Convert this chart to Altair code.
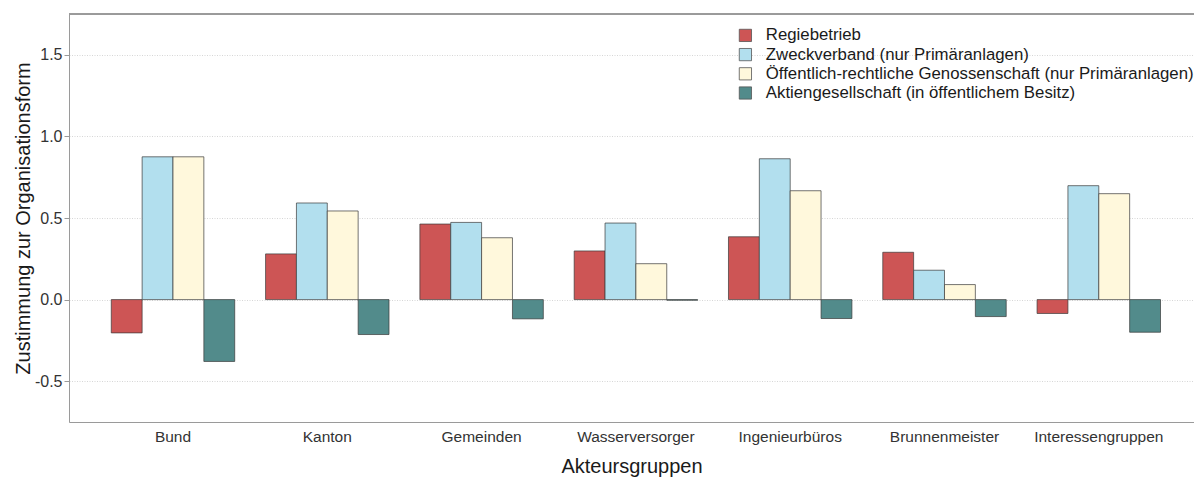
import altair as alt
import pandas as pd

groups = ["Bund", "Kanton", "Gemeinden", "Wasserversorger", "Ingenieurbüros",
          "Brunnenmeister", "Interessengruppen"]
forms = ["Regiebetrieb",
         "Zweckverband (nur Primäranlagen)",
         "Öffentlich-rechtliche Genossenschaft (nur Primäranlagen)",
         "Aktiengesellschaft (in öffentlichem Besitz)"]
regie = [-0.204, 0.28, 0.463, 0.298, 0.385, 0.29, -0.085]
zweck = [0.875, 0.592, 0.473, 0.469, 0.863, 0.18, 0.698]
genoss = [0.875, 0.543, 0.379, 0.22, 0.667, 0.092, 0.649]
aktien = [-0.379, -0.214, -0.118, -0.004, -0.116, -0.104, -0.20]
colors = ["#CD5555", "#B2DFEE", "#FFF8DC", "#528B8B"]
y_ticks = [-0.5, 0.0, 0.5, 1.0, 1.5]

rows = []
for f, vals in zip(forms, [regie, zweck, genoss, aktien]):
    for g, v in zip(groups, vals):
        rows.append({"Akteursgruppe": g, "Form": f, "Wert": v})
df = pd.DataFrame(rows)

W, H = 1125, 408

bars = alt.Chart(df).mark_bar(
    stroke="#3a3a3a", strokeWidth=1, strokeOpacity=0.7
).encode(
    x=alt.X("Akteursgruppe:N", sort=groups,
            scale=alt.Scale(paddingInner=0.2, paddingOuter=0.2455, align=0.558),
            axis=alt.Axis(title="Akteursgruppen", labelAngle=0, tickSize=0,
                          labelPadding=7, labelFontSize=15.5, labelColor="#333333",
                          titleFontSize=20, titleFontWeight="normal", titleColor="#1a1a1a",
                          titleY=50, titleBaseline="alphabetic",
                          domainColor="#9a9a9a", domainWidth=1, grid=False)),
    xOffset=alt.XOffset("Form:N", sort=forms,
                        scale=alt.Scale(paddingInner=0, paddingOuter=0)),
    y=alt.Y("Wert:Q",
            scale=alt.Scale(domain=[-0.75, 1.75], nice=False, zero=False),
            axis=alt.Axis(title="Zustimmung zur Organisationsform", values=y_ticks,
                          labelExpr="replace(format(datum.value, '.1f'), '\u2212', '-')",
                          tickSize=5, tickColor="#9a9a9a", labelPadding=2,
                          labelFontSize=16, labelColor="#333333",
                          titleFontSize=20, titleFontWeight="normal", titleColor="#1a1a1a",
                          titleX=-40, titleBaseline="alphabetic",
                          domainColor="#9a9a9a", domainWidth=1,
                          grid=True, gridColor="#d6d6d6", gridDash=[1, 1.5], gridWidth=1)),
    color=alt.Color("Form:N", sort=forms,
                    scale=alt.Scale(domain=forms, range=colors),
                    legend=alt.Legend(title=None, orient="none", legendX=668, legendY=13,
                                      symbolType="square", symbolSize=150,
                                      symbolStrokeColor="#555555", symbolStrokeWidth=0.8,
                                      labelFontSize=16.8, labelColor="#1a1a1a",
                                      labelLimit=600, rowPadding=1.2, labelOffset=12,
                                      padding=0)),
)

top = alt.Chart(df).mark_rule(color="#9a9a9a", strokeWidth=1).encode(
    x=alt.value(0), x2=alt.value(W), y=alt.value(0)
)

chart = alt.layer(bars, top).properties(
    width=W, height=H,
    autosize=alt.AutoSizeParams(type="none"),
    padding={"left": 61, "top": 6, "right": 0, "bottom": 56},
).configure_view(stroke="transparent").configure(
    font="Liberation Sans"
)

chart.save("out.html", embed_options={"renderer": "svg", "actions": False})
